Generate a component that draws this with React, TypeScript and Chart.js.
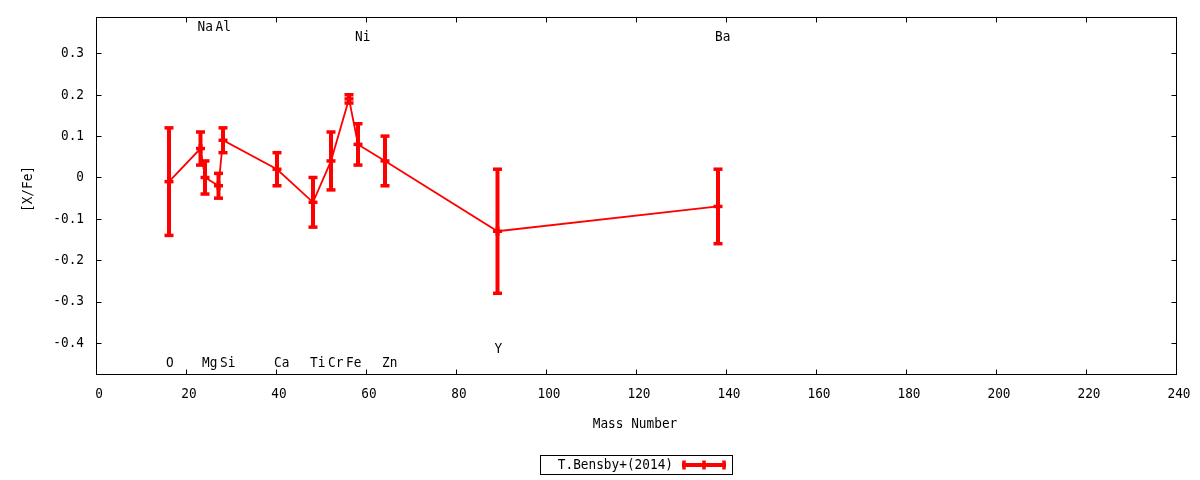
import React, { useEffect, useRef } from "react";
import { Chart, registerables } from "chart.js";

Chart.register(...registerables);

// ---- data ----
const elements = ["O", "Na", "Mg", "Al", "Si", "Ca", "Ti", "Cr", "Fe", "Ni", "Zn", "Y", "Ba"];
const massNumbers = [16, 23, 24, 27, 28, 40, 48, 52, 56, 58, 64, 89, 138];
const abundances = [-0.01, 0.07, 0.0, -0.02, 0.09, 0.02, -0.06, 0.04, 0.19, 0.08, 0.04, -0.13, -0.07];
const errors = [0.13, 0.04, 0.04, 0.03, 0.03, 0.04, 0.06, 0.07, 0.01, 0.05, 0.06, 0.15, 0.09];
const labelY = [-0.449, 0.363, -0.449, 0.363, -0.449, -0.449, -0.449, -0.449, -0.449, 0.339, -0.449, -0.415, 0.339];
const xTicks = [0, 20, 40, 60, 80, 100, 120, 140, 160, 180, 200, 220, 240];
const yTicks = [-0.4, -0.3, -0.2, -0.1, 0, 0.1, 0.2, 0.3];
const xTickLabels = ["0", "20", "40", "60", "80", "100", "120", "140", "160", "180", "200", "220", "240"];
const yTickLabels = ["-0.4", "-0.3", "-0.2", "-0.1", "0", "0.1", "0.2", "0.3"];
const seriesName = "T.Bensby+(2014)";
const xTitle = "Mass Number";
const yTitle = "[X/Fe]";

const RED = "#ff0000";
const FONT = '14.5px "DejaVu Sans Mono", monospace';
const SQUEEZE = 0.88;

function text(ctx: CanvasRenderingContext2D, s: string, x: number, y: number, align: CanvasTextAlign, rot = 0) {
  ctx.save();
  ctx.translate(x, y);
  if (rot) ctx.rotate(rot);
  ctx.scale(SQUEEZE, 1);
  ctx.font = FONT;
  ctx.fillStyle = "#000";
  ctx.textAlign = align;
  ctx.textBaseline = "middle";
  ctx.fillText(s, 0, 0);
  ctx.restore();
}

const gnuplotPlugin = {
  id: "gnuplotLook",
  afterDatasetsDraw(chart: any) {
    const { ctx, scales } = chart;
    const x = scales.x;
    const y = scales.y;
    ctx.save();
    ctx.strokeStyle = RED;
    ctx.lineCap = "butt";
    const seg = (x1: number, y1: number, x2: number, y2: number) => {
      ctx.beginPath();
      ctx.moveTo(x1, y1);
      ctx.lineTo(x2, y2);
      ctx.stroke();
    };
    massNumbers.forEach((m, i) => {
      const px = x.getPixelForValue(m);
      const py = y.getPixelForValue(abundances[i]);
      const pt = y.getPixelForValue(abundances[i] + errors[i]);
      const pb = y.getPixelForValue(abundances[i] - errors[i]);
      ctx.lineWidth = 4;
      seg(px, pt, px, pb);
      ctx.lineWidth = 3.5;
      seg(px - 4.5, pt, px + 4.5, pt);
      seg(px - 4.5, pb, px + 4.5, pb);
      // plus marker
      seg(px - 4.5, py, px + 4.5, py);
      ctx.lineWidth = 4;
      seg(px, py - 4.5, px, py + 4.5);
    });
    // element labels
    elements.forEach((el, i) => {
      text(ctx, el, x.getPixelForValue(massNumbers[i]) - 3, y.getPixelForValue(labelY[i]), "left");
    });
    ctx.restore();
  },
  afterDraw(chart: any) {
    const { ctx, chartArea: a, scales } = chart;
    const x = scales.x;
    const y = scales.y;
    ctx.save();
    ctx.strokeStyle = "#000";
    ctx.lineWidth = 1;
    const L = Math.round(a.left) - 0.5;
    const R = Math.round(a.right) - 0.5;
    const T = Math.round(a.top) + 0.5;
    const B = Math.round(a.bottom) - 0.5;
    ctx.strokeRect(L, T, R - L, B - T);
    const tl = 5;
    ctx.beginPath();
    xTicks.forEach((v) => {
      const px = Math.round(x.getPixelForValue(v)) - 0.5;
      ctx.moveTo(px, B);
      ctx.lineTo(px, B - tl);
      ctx.moveTo(px, T);
      ctx.lineTo(px, T + tl);
    });
    yTicks.forEach((v) => {
      const py = Math.round(y.getPixelForValue(v)) + 0.5;
      ctx.moveTo(L, py);
      ctx.lineTo(L + tl, py);
      ctx.moveTo(R, py);
      ctx.lineTo(R - tl, py);
    });
    ctx.stroke();

    // tick labels
    xTicks.forEach((v, i) => text(ctx, xTickLabels[i], x.getPixelForValue(v) + 2, 394, "center"));
    yTicks.forEach((v, i) => text(ctx, yTickLabels[i], 84, y.getPixelForValue(v), "right"));

    // axis titles
    text(ctx, xTitle, (a.left + a.right) / 2 - 2, 424, "center");
    text(ctx, yTitle, 28, 189, "center", -Math.PI / 2);

    // legend box
    ctx.strokeStyle = "#000";
    ctx.lineWidth = 1;
    ctx.strokeRect(540.5, 455.5, 192, 19);
    text(ctx, seriesName, 673, 465.5, "right");
    ctx.strokeStyle = RED;
    ctx.lineWidth = 4;
    ctx.beginPath();
    ctx.moveTo(682, 465);
    ctx.lineTo(726, 465);
    ctx.stroke();
    ctx.lineWidth = 3.5;
    ctx.beginPath();
    [684, 704, 724].forEach((lx) => {
      ctx.moveTo(lx, 460.5);
      ctx.lineTo(lx, 469.5);
    });
    ctx.stroke();
    ctx.restore();
  },
};

export default function App() {
  const canvasRef = useRef<HTMLCanvasElement | null>(null);

  useEffect(() => {
    document.body.style.margin = "0";
    const canvas = canvasRef.current;
    if (!canvas) return;
    const chart = new Chart(canvas, {
      type: "line",
      data: {
        datasets: [
          {
            label: seriesName,
            data: massNumbers.map((m, i) => ({ x: m, y: abundances[i] })),
            borderColor: RED,
            backgroundColor: RED,
            borderWidth: 1.8,
            pointRadius: 0,
            tension: 0,
            fill: false,
          },
        ],
      },
      options: {
        responsive: false,
        animation: false,
        devicePixelRatio: 1,
        layout: { padding: { left: 0, right: 23, top: 17, bottom: 0 } },
        plugins: {
          legend: { display: false },
          tooltip: { enabled: false },
        },
        scales: {
          x: {
            type: "linear",
            min: 0,
            max: 240,
            grid: { display: false, drawTicks: false },
            border: { display: false },
            afterBuildTicks: (s: any) => {
              s.ticks = xTicks.map((v) => ({ value: v }));
            },
            afterFit: (s: any) => {
              s.height = 105;
              s.paddingLeft = 0;
              s.paddingRight = 0;
              s.paddingTop = 0;
              s.paddingBottom = 0;
            },
            ticks: { display: false },
          },
          y: {
            type: "linear",
            min: -0.4775,
            max: 0.388,
            grid: { display: false, drawTicks: false },
            border: { display: false },
            afterBuildTicks: (s: any) => {
              s.ticks = yTicks.map((v) => ({ value: v }));
            },
            afterFit: (s: any) => {
              s.width = 97;
              s.paddingLeft = 0;
              s.paddingRight = 0;
              s.paddingTop = 0;
              s.paddingBottom = 0;
            },
            ticks: { display: false },
          },
        },
      },
      plugins: [gnuplotPlugin],
    });
    return () => chart.destroy();
  }, []);

  return (
    <div style={{ width: 1200, height: 480, background: "#fff" }}>
      <canvas ref={canvasRef} width={1200} height={480} style={{ display: "block" }} />
    </div>
  );
}
